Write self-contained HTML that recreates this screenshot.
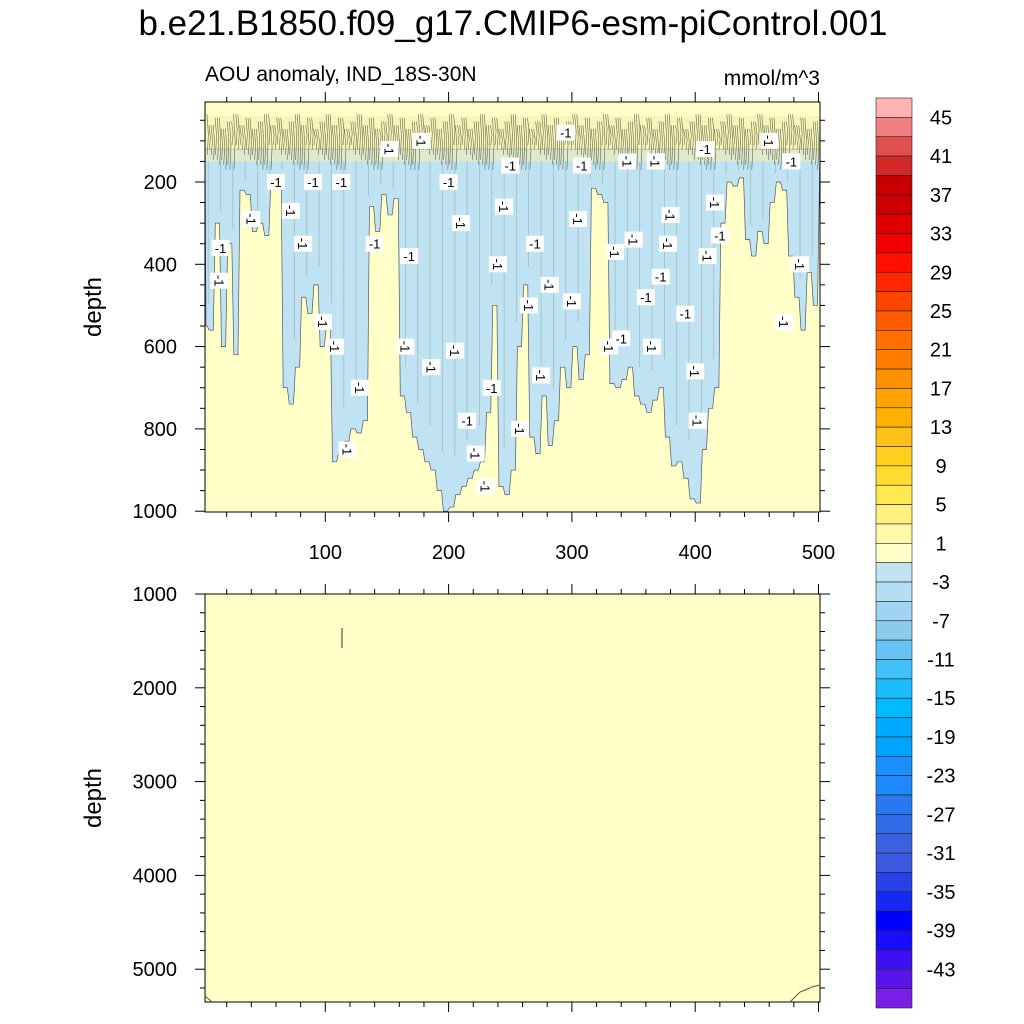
<!DOCTYPE html>
<html><head><meta charset="utf-8"><style>
body{margin:0;background:#fff;}
svg{display:block;font-family:"Liberation Sans",sans-serif;}
</style></head><body>
<svg id="chart" width="1024" height="1024" viewBox="0 0 1024 1024">
<text x="513" y="35" text-anchor="middle" font-size="35">b.e21.B1850.f09_g17.CMIP6-esm-piControl.001</text>
<text x="205" y="81" font-size="21">AOU anomaly, IND_18S-30N</text>
<text x="820" y="85" font-size="21" text-anchor="end">mmol/m^3</text>
<text transform="translate(101,307) rotate(-90)" text-anchor="middle" font-size="24">depth</text>
<text transform="translate(101,798) rotate(-90)" text-anchor="middle" font-size="24">depth</text>
<g id="topPanel"></g><g id="botPanel"></g><g id="cbarG"></g>
</svg>
<script>
const blueBottom=[550,560,300,600,350,620,220,230,320,300,330,200,190,700,740,650,480,520,450,600,550,880,860,830,800,810,780,260,320,230,280,240,720,760,820,850,880,900,950,1000,990,960,940,920,900,880,760,500,940,960,900,600,450,820,860,720,840,780,650,700,600,680,620,215,230,250,690,700,680,650,720,740,760,730,700,820,890,880,920,970,980,850,750,700,300,200,210,190,340,380,320,350,250,200,220,380,480,560,420,500];
const labelX=[15,14,40,60,72,82,90,98,108,113,118,128,140,152,165,168,178,186,200,205,210,215,222,230,235,240,245,250,258,265,270,275,282,295,300,305,308,330,335,340,345,350,360,365,368,372,378,380,392,400,402,408,410,416,420,460,472,478,485];
const labelD=[360,440,290,200,270,350,200,540,600,200,850,700,350,120,600,380,100,650,200,610,300,780,860,940,700,400,260,160,800,500,350,670,450,80,490,290,160,600,370,580,150,340,480,600,150,430,350,280,520,660,780,120,380,250,330,100,540,150,400];
const cbarLevels=[45,41,37,33,29,25,21,17,13,9,5,1,-3,-7,-11,-15,-19,-23,-27,-31,-35,-39,-43];
const cbarColors=["#ffb3b3","#f08080","#e05050","#d42828","#c80000","#cc0000","#e00000","#f00000","#ff1000","#ff2800","#ff4400","#ff5c00","#ff7000","#ff7c00","#ff9000","#ffa400","#ffb000","#ffc018","#ffd020","#ffdc30","#ffe850","#fff080","#fff8a8","#ffffc8","#c0e4f4","#b4def2","#a0d4f0","#8ccaee","#66c4f4","#44c0f8","#1cbcff","#00bcff","#00aaff","#00a4ff","#1a90ff","#1e88ff","#2a78f0","#2e6ce8","#3c60e0","#3c58e0","#2840e8","#1828f4","#0000ff","#1a0cff","#3c10f0","#5a14e8","#7a1ee8"];
const topXTicks=[100,200,300,400,500];
const topYTicks=[200,400,600,800,1000];
const botYTicks=[1000,2000,3000,4000,5000];

(function(){
const NS="http://www.w3.org/2000/svg";
function mk(p,t,a){const e=document.createElementNS(NS,t);for(const k in a)e.setAttribute(k,a[k]);p.appendChild(e);return e;}
const X0=205,X1=820;
const xs=v=>202+v*1.233;
const yT=d=>99.7+d*0.4115;
const yB=d=>594+(d-1000)*0.0938;
const tp=document.getElementById('topPanel'),bp=document.getElementById('botPanel'),cb=document.getElementById('cbarG');

let r=mk(tp,'rect',{x:X0,y:102,width:X1-X0,height:410,fill:'#ffffc8'});


let pts=[[X0,yT(120)]];
blueBottom.forEach((v,i)=>{const xa=Math.max(X0,xs(i*5)),xb=Math.min(X1,xs(i*5+5));pts.push([xa+1,yT(v)]);pts.push([xb-1,yT(v)]);});
pts.push([X1,yT(120)]);
let pg=mk(tp,'polygon',{points:pts.map(p=>p.join(',')).join(' '),fill:'#bfe3f3',stroke:'#556',"stroke-width":0.7});


let td='';
for(let i=1;i<blueBottom.length;i+=2){const x=xs(i*5);if(x<X0+2||x>X1-2)continue;const m=Math.min(blueBottom[i-1],blueBottom[i]);td+=`M${x.toFixed(1)},${yT(150).toFixed(1)}L${x.toFixed(1)},${yT(m*0.9).toFixed(1)}`;}
let tx=mk(tp,'path',{d:td,stroke:'#7a8a60',"stroke-width":0.7,fill:'none',opacity:0.45});


let band=mk(tp,'rect',{x:X0,y:yT(40),width:X1-X0,height:yT(150)-yT(40),fill:'#f4eeb0',opacity:0.6});


let d='';
blueBottom.forEach((v,i)=>{for(let k=0;k<3;k++){const x=xs(i*5+k*1.7+0.6);if(x<X0+1||x>X1-2)continue;const b=110+((i*7+k*13)%6)*12;const t=35+((i*3+k*5)%5)*9;d+=`M${x.toFixed(1)},${yT(t).toFixed(1)}L${(x+1.5).toFixed(1)},${yT((t+b)/2).toFixed(1)}L${(x+0.4).toFixed(1)},${yT(b).toFixed(1)}`;}});
let nl=mk(tp,'path',{d:d,stroke:'#3a3a2a',"stroke-width":0.6,fill:'none',opacity:0.75});


labelX.forEach((lx,i)=>{const g=mk(tp,'g',{});


const cx=xs(lx),cy=yT(labelD[i]);mk(g,'rect',{x:cx-9,y:cy-8,width:18,height:16,fill:'#fff'});
const t=mk(g,'text',{x:cx,y:cy+5,"text-anchor":"middle","font-size":13,transform:`rotate(${i%3?90:0} ${cx} ${cy})`});t.textContent='-1';});
let fr=mk(tp,'rect',{x:X0,y:102,width:X1-X0,height:410,fill:'none',stroke:'#000',"stroke-width":1});


for(let v=20;v<=500;v+=20){const x=xs(v);if(x<X0)continue;const L=v%100?5:10;mk(tp,'line',{x1:x,x2:x,y1:512,y2:512+L,stroke:'#000'});mk(tp,'line',{x1:x,x2:x,y1:102,y2:102-L,stroke:'#000'});}
topXTicks.forEach(v=>{const t=mk(tp,'text',{x:xs(v),y:559,"text-anchor":"middle","font-size":20});


t.textContent=v;});
for(let v=50;v<=1000;v+=50){const y=yT(v);if(y<102)continue;const L=v%200?5:10;mk(tp,'line',{x1:X0,x2:X0-L,y1:y,y2:y,stroke:'#000'});mk(tp,'line',{x1:X1,x2:X1+L,y1:y,y2:y,stroke:'#000'});}
topYTicks.forEach(v=>{const t=mk(tp,'text',{x:177,y:yT(v)+7,"text-anchor":"end","font-size":20});


t.textContent=v;});

let rb=mk(bp,'rect',{x:X0,y:594,width:X1-X0,height:408,fill:'#ffffc8',stroke:'#000'});


let ln=mk(bp,'line',{x1:342,x2:342,y1:628,y2:648,stroke:'#333'});


mk(bp,'path',{d:'M790,1002 L800,992 L812,987 L820,985',stroke:'#555',fill:'none'});
mk(bp,'path',{d:'M205,996 L212,1002',stroke:'#555',fill:'none'});
for(let v=20;v<=500;v+=20){const x=xs(v);if(x<X0)continue;const L=v%100?5:10;mk(bp,'line',{x1:x,x2:x,y1:1002,y2:1002+L,stroke:'#000'});mk(bp,'line',{x1:x,x2:x,y1:594,y2:594-L,stroke:'#000'});}
for(let v=1000;v<=5350;v+=200){const y=yB(v);const L=(v%1000)?5:10;mk(bp,'line',{x1:X0,x2:X0-L,y1:y,y2:y,stroke:'#000'});mk(bp,'line',{x1:X1,x2:X1+L,y1:y,y2:y,stroke:'#000'});}
botYTicks.forEach(v=>{const t=mk(bp,'text',{x:177,y:yB(v)+7,"text-anchor":"end","font-size":20});


t.textContent=v;});

const cy0=98,bh=910/cbarColors.length;
cbarColors.forEach((c,i)=>{const b=mk(cb,'rect',{x:876,y:cy0+i*bh,width:36,height:bh,fill:c,stroke:'#222',"stroke-width":0.6});

});
cbarLevels.forEach(v=>{const i=(45-v)/2+1;const t=mk(cb,'text',{x:941,y:cy0+i*bh+7,"text-anchor":"middle","font-size":20});


t.textContent=v;});
})();
</script>
</body></html>
